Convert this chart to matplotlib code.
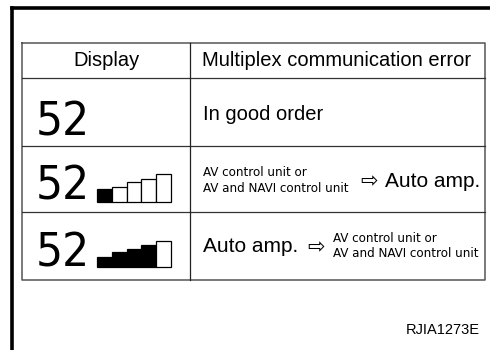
import matplotlib
matplotlib.use("Agg")
import matplotlib.pyplot as plt

# ---- data ----
headers = ["Display", "Multiplex communication error"]
display_value = "52"
row1_text = "In good order"
unit_text = "AV control unit or\nAV and NAVI control unit"
amp_text = "Auto amp."
arrow_char = "\u21e8"
bar_heights_row2 = [13, 15, 20, 23, 28]
bar_filled_row2 = [True, False, False, False, False]
bar_heights_row3 = [10, 15, 18, 22, 26]
bar_filled_row3 = [True, True, True, True, False]
code_label = "RJIA1273E"

regular = ["Liberation Sans", "DejaVu Sans"]

fig = plt.figure(figsize=(4.9, 3.5), dpi=100)
ax = fig.add_axes([0, 0, 1, 1])
ax.set_xlim(0, 490)
ax.set_ylim(350, 0)
ax.axis("off")

# outer frame
ax.plot([12, 12], [350, 7.5], color="black", lw=2.6, solid_capstyle="projecting")
ax.plot([12, 490], [7.5, 7.5], color="black", lw=2.6, solid_capstyle="projecting")

# table
L, R, C = 22, 485, 190
rows = [42.7, 78, 145.7, 211.7, 280]
ax.plot([L, R, R, L, L], [rows[0], rows[0], rows[-1], rows[-1], rows[0]],
        color="#555555", lw=1.1)
for y in rows[1:-1]:
    ax.plot([L, R], [y, y], color="#333333", lw=0.9)
ax.plot([C, C], [rows[0], rows[-1]], color="#222222", lw=0.9)

# header
ax.text((L + C) / 2, 60.5, headers[0], ha="center", va="center",
        fontsize=14.5, family=regular)
ax.text((C + R) / 2 - 1, 60.5, headers[1], ha="center", va="center",
        fontsize=14.5, family=regular)

# "52" in each row
for yb in [135, 200, 266.5]:
    ax.text(36, yb, display_value, ha="left", va="baseline",
            fontsize=34, family=["DejaVu Sans"], fontstretch="condensed")

# bar indicators
bar_w = 14.8
x0 = 97 + bar_w / 2
for heights, filled, base in [(bar_heights_row2, bar_filled_row2, 201.7),
                              (bar_heights_row3, bar_filled_row3, 266.7)]:
    xs = [x0 + i * bar_w for i in range(len(heights))]
    ax.bar(xs, [-h for h in heights], width=bar_w, bottom=base,
           color=["black" if f else "white" for f in filled],
           edgecolor="black", linewidth=0.9)

# row 1
ax.text(203, 114, row1_text, ha="left", va="center", fontsize=14.5, family=regular)

# row 2
ax.text(203, 180.5, unit_text, ha="left", va="center", fontsize=9.5,
        family=["DejaVu Sans"], fontstretch="condensed", linespacing=1.2)
ax.text(369, 181.5, arrow_char, ha="center", va="center", fontsize=15,
        family=["DejaVu Sans"])
ax.text(385, 181.5, amp_text, ha="left", va="center", fontsize=15, family=regular)

# row 3
ax.text(203, 247, amp_text, ha="left", va="center", fontsize=15, family=regular)
ax.text(316, 247, arrow_char, ha="center", va="center", fontsize=15,
        family=["DejaVu Sans"])
ax.text(333, 246, unit_text, ha="left", va="center", fontsize=9.5,
        family=["DejaVu Sans"], fontstretch="condensed", linespacing=1.2)

# code label
ax.text(480, 330, code_label, ha="right", va="center", fontsize=10.5, family=regular)

fig.savefig("out.png", dpi=100)
